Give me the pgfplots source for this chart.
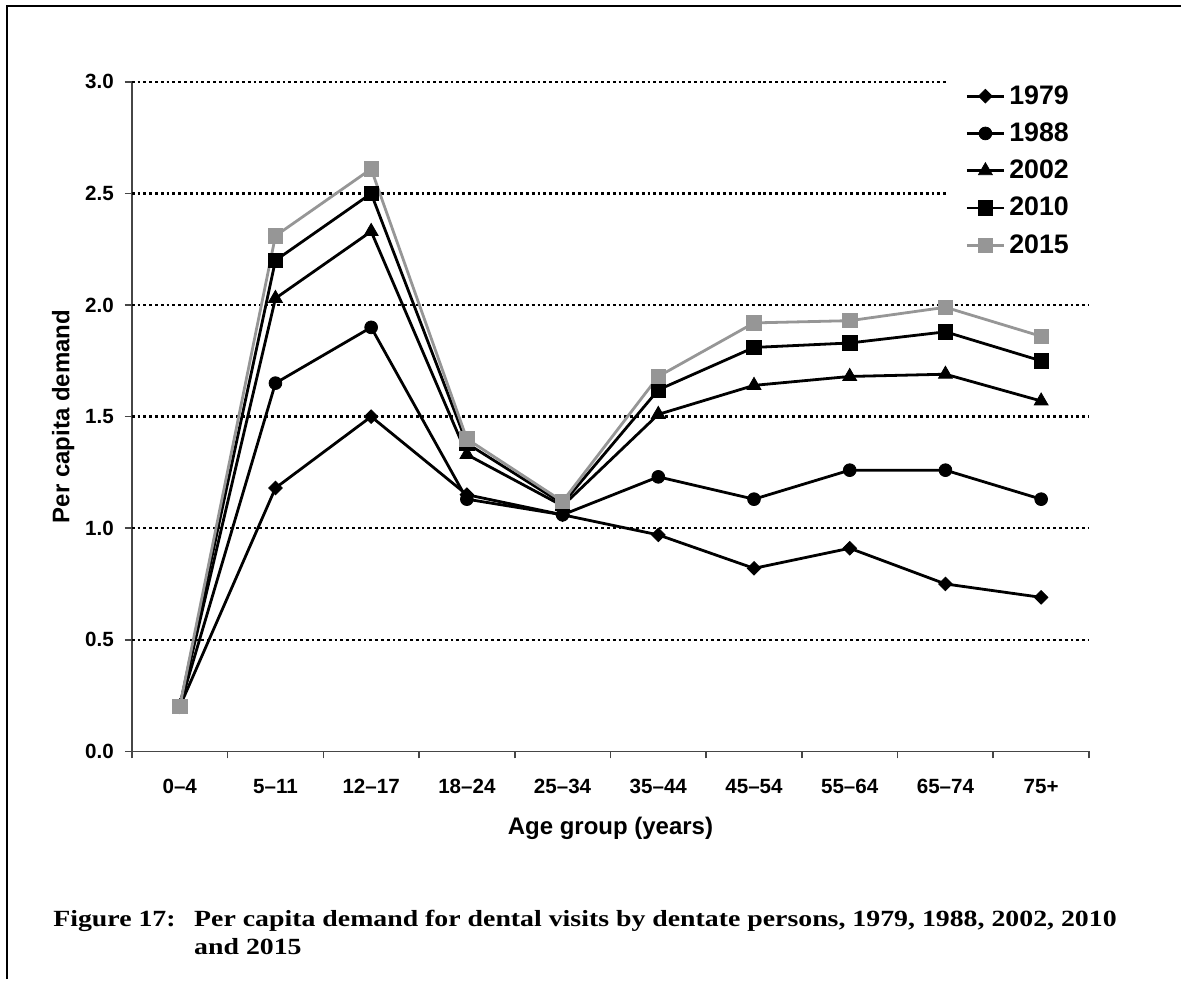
\documentclass[border=0pt]{standalone}
\usepackage{fontspec}
\setmainfont{Liberation Sans}
\newfontfamily\capfont{Liberation Serif}[FakeStretch=1.2]
\usepackage{pgfplots}
\pgfplotsset{compat=1.18}
\definecolor{grayline}{RGB}{150,150,150}
\definecolor{axisgray}{RGB}{70,70,70}

\begin{document}
\begin{tikzpicture}
\path (0,0) rectangle (591pt,490pt);
\draw[line width=1.1pt] (3.5pt,0pt) -- (3.5pt,487pt) -- (591pt,487pt);
\begin{axis}[
  at={(66pt,114pt)}, anchor=south west,
  scale only axis, width=479pt, height=335pt,
  xmin=-0.5, xmax=9.5, ymin=0, ymax=3,
  axis x line*=bottom, axis y line*=left,
  axis line style={line width=0.8pt, axisgray, -},
  tick align=outside,
  major tick length=3.5pt,
  tick style={line width=0.8pt, axisgray},
  xtick={-0.5,0.5,...,9.5},
  xticklabels={{},{},{},{},{},{},{},{},{},{},{}},
  extra x ticks={0,1,2,3,4,5,6,7,8,9},
  extra x tick labels={0–4,5–11,12–17,18–24,25–34,35–44,45–54,55–64,65–74,75+},
  extra x tick style={tick style={draw=none}},
  ytick={0,0.5,1,1.5,2,2.5,3},
  extra y ticks={0.5,1,1.5,2,2.5,3},
  extra y tick labels={{},{},{},{},{},{}},
  extra y tick style={grid=major},
  /pgf/number format/fixed, /pgf/number format/fixed zerofill, /pgf/number format/precision=1,
  /pgf/number format/assume math mode=true,
  tick label style={font=\bfseries\fontsize{10.3}{12}\selectfont},
  xticklabel style={yshift=-7pt},
  yticklabel style={xshift=-2pt},
  grid style={black, line width=1.2pt, dash pattern=on 1.4pt off 1.5pt},
  xlabel={Age group (years)},
  ylabel={Per capita demand},
  label style={font=\bfseries\fontsize{12}{14}\selectfont},
  xlabel style={at={(axis description cs:0.5,0)}, anchor=base, yshift=-41.5pt},
  ylabel style={at={(axis description cs:-0.0652,0.5)}, anchor=base},
  legend style={at={(axis description cs:0.8497,1.0015)}, anchor=north west,
    draw=none, fill=white, inner xsep=10pt, inner ysep=0pt,
    font=\bfseries\fontsize{13.4}{15}\selectfont, row sep=3.8pt},
  legend cell align=left,
  legend image code/.code={\draw[mark repeat=2,mark phase=2] plot coordinates {(0cm,0cm) (0.325cm,0cm) (0.65cm,0cm)};},
]
\addplot[black, line width=1.4pt, mark=square*, mark size=2.4pt, mark options={rotate=45, line width=0.4pt}]
  coordinates {(0,0.20) (1,1.18) (2,1.50) (3,1.15) (4,1.06) (5,0.97) (6,0.82) (7,0.91) (8,0.75) (9,0.69)};
\addlegendentry{1979}
\addplot[black, line width=1.4pt, mark=*, mark size=3.2pt, mark options={line width=0.4pt}]
  coordinates {(0,0.20) (1,1.65) (2,1.90) (3,1.13) (4,1.06) (5,1.23) (6,1.13) (7,1.26) (8,1.26) (9,1.13)};
\addlegendentry{1988}
\addplot[black, line width=1.4pt, mark=triangle*, mark size=4pt, mark options={line width=0.4pt}]
  coordinates {(0,0.20) (1,2.03) (2,2.33) (3,1.33) (4,1.10) (5,1.51) (6,1.64) (7,1.68) (8,1.69) (9,1.57)};
\addlegendentry{2002}
\addplot[black, line width=1.4pt, mark=square*, mark size=3.6pt, mark options={line width=0.4pt}]
  coordinates {(0,0.20) (1,2.20) (2,2.50) (3,1.38) (4,1.11) (5,1.62) (6,1.81) (7,1.83) (8,1.88) (9,1.75)};
\addlegendentry{2010}
\addplot[grayline, line width=1.4pt, mark=square*, mark size=3.6pt, mark options={line width=0.4pt, fill=grayline}]
  coordinates {(0,0.20) (1,2.31) (2,2.61) (3,1.40) (4,1.12) (5,1.68) (6,1.92) (7,1.93) (8,1.99) (9,1.86)};
\addlegendentry{2015}
\end{axis}
\begin{scope}[font=\capfont\bfseries\fontsize{11.6}{14}\selectfont]
\node[anchor=base west, inner sep=0pt] at (26.5pt,26.5pt) {Figure 17:};
\node[anchor=base west, inner sep=0pt] at (97pt,26.5pt) {Per capita demand for dental visits by dentate persons, 1979, 1988, 2002, 2010};
\node[anchor=base west, inner sep=0pt] at (97pt,12.5pt) {and 2015};
\end{scope}
\end{tikzpicture}
\end{document}
